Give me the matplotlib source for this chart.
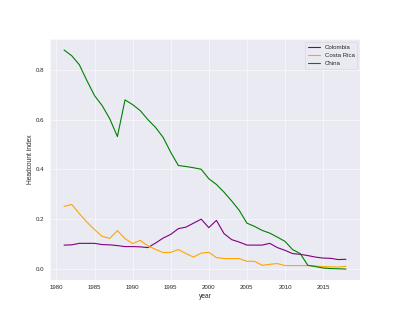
import numpy as np
import matplotlib
matplotlib.use("Agg")
import matplotlib.pyplot as plt
import seaborn as sns

years = np.arange(1981, 2019)

colombia = [0.097, 0.098, 0.104, 0.104, 0.104, 0.099, 0.098, 0.095, 0.091, 0.091,
            0.090, 0.087, 0.105, 0.125, 0.140, 0.163, 0.169, 0.185, 0.201, 0.167,
            0.196, 0.143, 0.119, 0.109, 0.097, 0.097, 0.097, 0.104, 0.087, 0.076,
            0.063, 0.060, 0.055, 0.049, 0.045, 0.044, 0.039, 0.040]

costa_rica = [0.252, 0.260, 0.223, 0.189, 0.159, 0.132, 0.124, 0.155, 0.123, 0.103,
              0.116, 0.094, 0.080, 0.067, 0.068, 0.079, 0.063, 0.049, 0.065, 0.068,
              0.047, 0.043, 0.043, 0.043, 0.032, 0.032, 0.016, 0.020, 0.023, 0.015,
              0.015, 0.015, 0.015, 0.013, 0.011, 0.010, 0.009, 0.012]

china = [0.879, 0.856, 0.820, 0.756, 0.696, 0.656, 0.603, 0.532, 0.679, 0.660,
         0.636, 0.600, 0.569, 0.529, 0.469, 0.416, 0.412, 0.407, 0.401, 0.363,
         0.340, 0.309, 0.274, 0.236, 0.185, 0.172, 0.156, 0.145, 0.129, 0.112,
         0.079, 0.063, 0.016, 0.011, 0.005, 0.003, 0.002, 0.001]

sns.set_theme()
plt.rcParams['font.family'] = ['Liberation Sans', 'DejaVu Sans']

fig, ax = plt.subplots(figsize=(10, 8), dpi=40)
fig.subplots_adjust(left=0.125, right=0.9, bottom=0.125, top=0.878)
ax.plot(years, colombia, color="purple", label="Colombia", lw=2)
ax.plot(years, costa_rica, color="orange", label="Costa Rica", lw=2)
ax.plot(years, china, color="green", label="China", lw=2)
ax.set_xlabel("year")
ax.set_ylabel("Headcount index")
ax.legend(loc="upper right")

fig.savefig("out.png", dpi=40)
